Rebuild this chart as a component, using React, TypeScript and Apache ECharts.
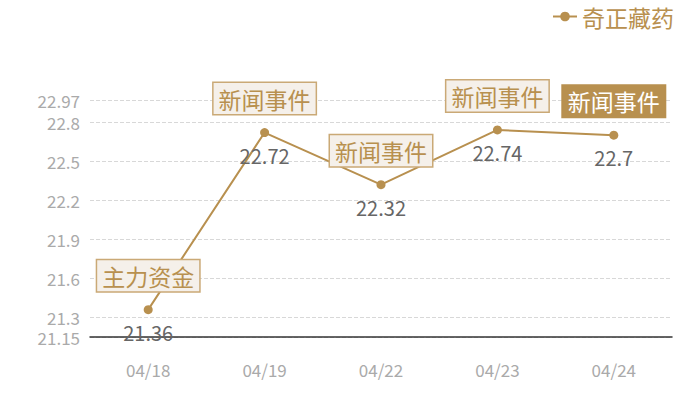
import React, { useEffect, useRef } from "react";
import * as echarts from "echarts";

const categories = ["04/18", "04/19", "04/22", "04/23", "04/24"];
const prices = [21.36, 22.72, 22.32, 22.74, 22.7];
const eventTags = ["主力资金", "新闻事件", "新闻事件", "新闻事件", "新闻事件"];
const highlightedIndex = 4;
const yMin = 21.15;
const yMax = 22.97;

const GOLD = "#b8904f";
const FONT = "'Noto Sans CJK SC', 'Noto Sans', sans-serif";

export default function App() {
  const ref = useRef<HTMLDivElement>(null);
  useEffect(() => {
    document.body.style.margin = "0";
    if (!ref.current) return;
    const chart = echarts.init(ref.current, undefined, { renderer: "svg" });
    chart.setOption({
      animation: false,
      textStyle: { fontFamily: FONT },
      legend: {
        data: ["奇正藏药"],
        right: 21,
        top: 0,
        itemWidth: 24,
        itemHeight: 12,
        itemGap: 8,
        textStyle: { color: GOLD, fontSize: 23, fontFamily: FONT },
      },
      grid: { left: 90, right: 28, top: 100, bottom: 63 },
      xAxis: {
        type: "category",
        data: categories,
        axisTick: { show: false },
        axisLine: { lineStyle: { color: "#333", width: 1.5 } },
        axisLabel: { color: "#aaa", fontSize: 17, margin: 24, fontFamily: FONT },
      },
      yAxis: {
        type: "value",
        min: yMin,
        max: yMax,
        axisLine: { show: false },
        axisTick: { show: false },
        axisLabel: { color: "#aaa", fontSize: 17, margin: 10, fontFamily: FONT },
        splitLine: { lineStyle: { color: "#d8d8d8", type: "dashed" } },
      },
      series: [
        {
          name: "奇正藏药",
          type: "line",
          data: prices,
          symbol: "circle",
          symbolSize: 9,
          itemStyle: { color: GOLD },
          lineStyle: { color: GOLD, width: 2 },
          label: {
            show: true,
            position: "bottom",
            distance: 8,
            color: "#666",
            fontSize: 20,
            fontFamily: FONT,
          },
          markPoint: {
            symbol: "circle",
            symbolSize: 1,
            itemStyle: { color: "rgba(0,0,0,0)" },
            data: prices.map((v, i) => {
              const hl = i === highlightedIndex;
              return {
                name: eventTags[i],
                coord: [i, v],
                label: {
                  show: true,
                  formatter: eventTags[i],
                  position: "inside",
                  offset: [0, -34],
                  fontSize: 23,
                  fontFamily: FONT,
                  color: hl ? "#fff" : GOLD,
                  backgroundColor: hl ? GOLD : "#f5f0ea",
                  borderColor: hl ? GOLD : "#caa976",
                  borderWidth: 1.5,
                  padding: [4, 5, 4, 5],
                },
              };
            }),
          },
        },
      ],
    });
    return () => chart.dispose();
  }, []);
  return <div ref={ref} style={{ width: 700, height: 400 }} />;
}
